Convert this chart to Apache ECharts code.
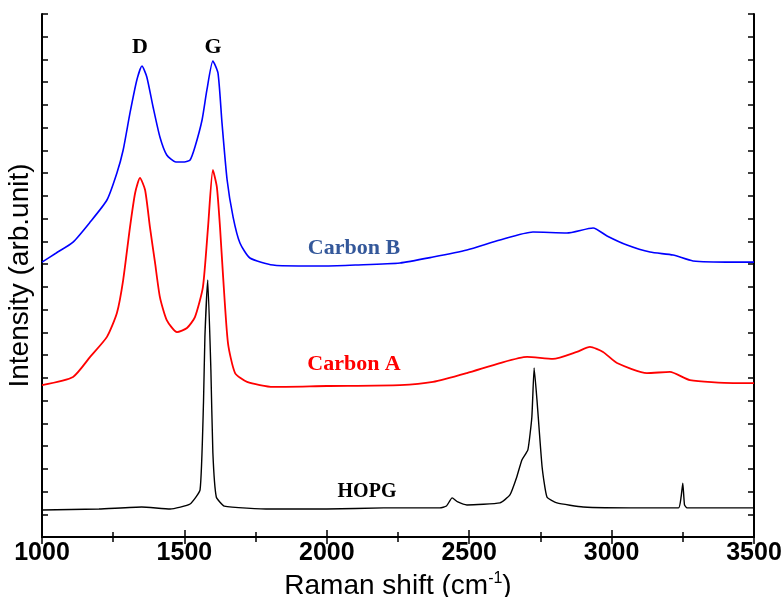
<!DOCTYPE html>
<html>
<head>
<meta charset="utf-8">
<script src="https://cdn.jsdelivr.net/npm/echarts@6/dist/echarts.min.js"></script>
<style>html,body{margin:0;padding:0;background:#fff}#chart{width:784px;height:597px}</style>
</head>
<body>
<div id="chart"></div>
<script>
// Raman shift (cm-1) and intensity (arb. unit, offset for stacking)
const carbonBShift = [1000,1050,1109,1169,1228,1263,1285,1309,1333,1351,1368,1390,1414,1438,1470,1500,1520,1537,1562,1579,1600,1618,1632,1650,1671,1695,1730,1811,1900,2000,2100,2257,2373,2492,2608,2724,2843,2935,2984,3054,3135,3216,3286,3427,3500];
const carbonBInt   = [12.09,12.49,12.97,13.85,14.82,16.01,17.02,18.65,20.10,20.71,20.23,18.91,17.59,16.80,16.49,16.49,16.58,17.15,18.34,19.66,20.93,20.40,18.21,15.70,14.07,12.93,12.27,11.96,11.92,11.92,11.96,12.05,12.31,12.62,13.06,13.41,13.37,13.59,13.24,12.84,12.53,12.40,12.14,12.09,12.09];

const carbonAShift = [1000,1109,1169,1228,1263,1285,1309,1327,1344,1362,1379,1397,1414,1438,1474,1509,1537,1565,1583,1600,1614,1625,1636,1653,1678,1720,1811,2000,2257,2373,2492,2608,2703,2794,2878,2924,2970,3019,3124,3205,3275,3427,3500];
const carbonAInt   = [6.68,7.04,7.92,8.80,9.85,11.30,13.63,15.13,15.79,15.26,13.63,12.05,10.55,9.54,9.01,9.19,9.67,10.99,13.63,16.14,15.39,13.63,11.43,8.53,7.21,6.82,6.60,6.64,6.68,6.82,7.21,7.65,7.92,7.83,8.14,8.36,8.14,7.65,7.21,7.26,6.90,6.77,6.77];

const hopgShift = [1000,1200,1350,1450,1520,1555,1567,1572,1582,1593,1600,1612,1640,1800,2000,2200,2397,2420,2440,2460,2492,2608,2643,2667,2685,2706,2720,2728,2738,2756,2773,2808,2900,3100,3235,3244,3250,3256,3265,3500];
const hopgInt   = [1.19,1.23,1.32,1.23,1.45,2.07,5.89,8.80,11.30,7.34,3.69,1.76,1.36,1.23,1.23,1.28,1.28,1.36,1.72,1.54,1.41,1.50,1.85,2.64,3.39,3.83,5.28,7.43,6.02,3.08,1.76,1.50,1.32,1.28,1.28,1.76,2.37,1.41,1.28,1.28];

const xTicks = [1000,1500,2000,2500,3000,3500];

const zip = (a, b) => a.map((v, i) => [v, b[i]]);

const chart = echarts.init(document.getElementById('chart'), null, {renderer: 'canvas'});

const frameAxisLine = {show: true, lineStyle: {color: '#000', width: 2}};

chart.setOption({
  animation: false,
  backgroundColor: '#fff',
  grid: {left: 42, right: 30, top: 14, bottom: 60, containLabel: false, outerBoundsMode: 'none'},
  xAxis: [
    {
      type: 'value', position: 'bottom', min: 1000, max: 3500, interval: 500,
      axisLine: frameAxisLine,
      axisTick: {show: true, inside: true, length: 7, lineStyle: {color: '#000', width: 1.5}},
      minorTick: {show: true, splitNumber: 2, length: 5, lineStyle: {color: '#000', width: 1.5}},
      splitLine: {show: false},
      axisLabel: {
        show: true, margin: 4, color: '#000', fontSize: 25, fontWeight: 'bold',
        fontFamily: '"Liberation Sans", Arial, sans-serif',
        formatter: v => xTicks.includes(v) ? String(v) : ''
      },
      name: 'Raman shift (cm{sup|-1})',
      nameLocation: 'middle', nameGap: 30,
      nameTextStyle: {
        color: '#000', fontSize: 28, fontFamily: '"Liberation Sans", Arial, sans-serif',
        rich: {sup: {fontSize: 16, color: '#000', fontFamily: '"Liberation Sans", Arial, sans-serif', padding: [0, 0, 14, 0]}}
      }
    },
    {
      type: 'value', position: 'top', min: 1000, max: 3500, interval: 500,
      axisLine: frameAxisLine,
      axisTick: {show: true, inside: true, length: 7, lineStyle: {color: '#000', width: 1.5}},
      minorTick: {show: true, splitNumber: 2, length: 5, lineStyle: {color: '#000', width: 1.5}},
      splitLine: {show: false},
      axisLabel: {show: false}
    }
  ],
  yAxis: [
    {
      type: 'value', position: 'left', min: 0, max: 23, interval: 1,
      axisLine: frameAxisLine,
      axisTick: {show: true, inside: true, length: 6, lineStyle: {color: '#000', width: 1.5}},
      splitLine: {show: false},
      axisLabel: {show: false},
      name: 'Intensity (arb.unit)',
      nameLocation: 'middle', nameGap: 8, nameRotate: 90,
      nameTextStyle: {color: '#000', fontSize: 28, fontFamily: '"Liberation Sans", Arial, sans-serif'}
    },
    {
      type: 'value', position: 'right', min: 0, max: 23, interval: 1,
      axisLine: frameAxisLine,
      axisTick: {show: true, inside: true, length: 6, lineStyle: {color: '#000', width: 1.5}},
      splitLine: {show: false},
      axisLabel: {show: false}
    }
  ],
  series: [
    {
      name: 'Carbon B', type: 'line', xAxisIndex: 0, yAxisIndex: 0,
      data: zip(carbonBShift, carbonBInt), showSymbol: false, smooth: 0.2,
      lineStyle: {color: '#0000ff', width: 1.6}, z: 3
    },
    {
      name: 'Carbon A', type: 'line', xAxisIndex: 0, yAxisIndex: 0,
      data: zip(carbonAShift, carbonAInt), showSymbol: false, smooth: 0.2,
      lineStyle: {color: '#ff0000', width: 1.8}, z: 3
    },
    {
      name: 'HOPG', type: 'line', xAxisIndex: 0, yAxisIndex: 0,
      data: zip(hopgShift, hopgInt), showSymbol: false, smooth: 0.15,
      lineStyle: {color: '#000000', width: 1.4}, z: 4
    }
  ],
  graphic: [
    {type: 'text', x: 140, y: 47, style: {text: 'D', fill: '#000', font: 'bold 22px "Liberation Serif", "Times New Roman", serif', textAlign: 'center', textVerticalAlign: 'middle'}},
    {type: 'text', x: 213, y: 47, style: {text: 'G', fill: '#000', font: 'bold 22px "Liberation Serif", "Times New Roman", serif', textAlign: 'center', textVerticalAlign: 'middle'}},
    {type: 'text', x: 354, y: 248, style: {text: 'Carbon B', fill: '#34589a', font: 'bold 22px "Liberation Serif", "Times New Roman", serif', textAlign: 'center', textVerticalAlign: 'middle'}},
    {type: 'text', x: 354, y: 364, style: {text: 'Carbon A', fill: '#ff0000', font: 'bold 22px "Liberation Serif", "Times New Roman", serif', textAlign: 'center', textVerticalAlign: 'middle'}},
    {type: 'text', x: 367, y: 492, style: {text: 'HOPG', fill: '#000', font: 'bold 20px "Liberation Serif", "Times New Roman", serif', textAlign: 'center', textVerticalAlign: 'middle'}}
  ]
});
</script>
</body>
</html>
